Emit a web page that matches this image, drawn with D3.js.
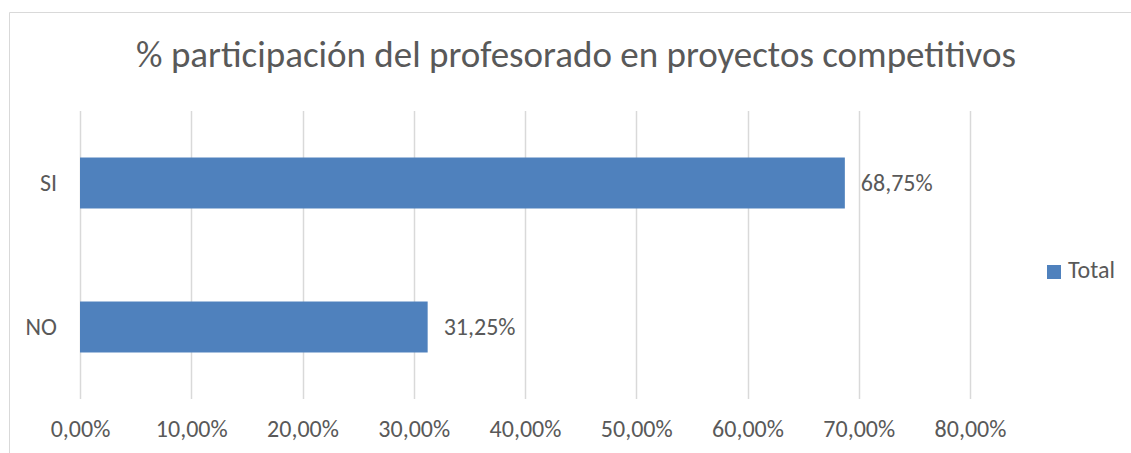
<!DOCTYPE html>
<html>
<head>
<meta charset="utf-8">
<script src="https://cdnjs.cloudflare.com/ajax/libs/d3/7.8.5/d3.min.js"></script>
<style>
  html, body { margin: 0; padding: 0; background: #fff; }
  svg text { font-family: Calibri, Carlito, "Open Sans", sans-serif; fill: #595959; }
</style>
</head>
<body>
<svg id="chart" width="1131" height="453"></svg>
<script>
// chart values
var categories = ['SI', 'NO'];
var values = [68.75, 31.25];
var seriesName = 'Total';
var xTicks = [0, 10, 20, 30, 40, 50, 60, 70, 80];
var title = '% participación del profesorado en proyectos competitivos';

var svg = d3.select('#chart');

// outer chart frame (only top and left edges are in the picture)
svg.append('path')
  .attr('d', 'M9.5,453V12.5H1131')
  .attr('fill', 'none')
  .attr('stroke', '#d9d9d9')
  .attr('stroke-width', 1);

// plot area
var plot = { left: 80, right: 970, top: 111, bottom: 399 };
var labelSize = '24px';

var x = d3.scaleLinear()
  .domain([0, 80])
  .range([plot.left, plot.right]);

var y = d3.scaleBand()
  .domain(categories)
  .range([plot.top, plot.bottom])
  .paddingInner(0.646)
  .paddingOuter(0.323);

var fmt = function(v) {
  return v.toFixed(2).replace('.', ',') + '%';
};

// vertical gridlines
svg.append('g')
  .selectAll('line')
  .data(xTicks)
  .enter()
  .append('line')
  .attr('x1', function(d) { return Math.round(x(d)) + 0.5; })
  .attr('x2', function(d) { return Math.round(x(d)) + 0.5; })
  .attr('y1', plot.top)
  .attr('y2', plot.bottom)
  .attr('stroke', '#d9d9d9')
  .attr('stroke-width', 1.5);

// x axis labels
var xAxis = d3.axisBottom(x)
  .tickValues(xTicks)
  .tickFormat(fmt)
  .tickSize(0)
  .tickPadding(0);

var gx = svg.append('g')
  .attr('transform', 'translate(0,' + 437 + ')')
  .call(xAxis);
gx.select('.domain').remove();
gx.selectAll('text')
  .attr('dy', 0)
  .style('font-size', labelSize)
  .style('font-family', null);

// category labels
var yAxis = d3.axisLeft(y).tickSize(0).tickPadding(23);
var gy = svg.append('g')
  .attr('transform', 'translate(' + plot.left + ',0)')
  .call(yAxis);
gy.select('.domain').remove();
gy.selectAll('text')
  .style('font-size', labelSize)
  .style('font-family', null);

// bars
svg.append('g')
  .selectAll('rect')
  .data(values)
  .enter()
  .append('rect')
  .attr('x', x(0))
  .attr('y', function(d, i) { return y(categories[i]); })
  .attr('width', function(d) { return x(d) - x(0); })
  .attr('height', y.bandwidth())
  .attr('fill', '#4f81bd');

// data labels
svg.append('g')
  .selectAll('text')
  .data(values)
  .enter()
  .append('text')
  .attr('x', function(d) { return x(d) + 16; })
  .attr('y', function(d, i) { return y(categories[i]) + y.bandwidth() / 2; })
  .attr('dy', '0.33em')
  .style('font-size', labelSize)
  .text(fmt);

// title
svg.append('text')
  .attr('x', 576)
  .attr('y', 67)
  .attr('text-anchor', 'middle')
  .style('font-size', '37px')
  .text(title);

// legend
var legend = svg.append('g').attr('transform', 'translate(1047,265)');
legend.append('rect')
  .attr('width', 14)
  .attr('height', 14)
  .attr('fill', '#4f81bd');
legend.append('text')
  .attr('x', 21)
  .attr('y', 13)
  .style('font-size', labelSize)
  .text(seriesName);
</script>
</body>
</html>
